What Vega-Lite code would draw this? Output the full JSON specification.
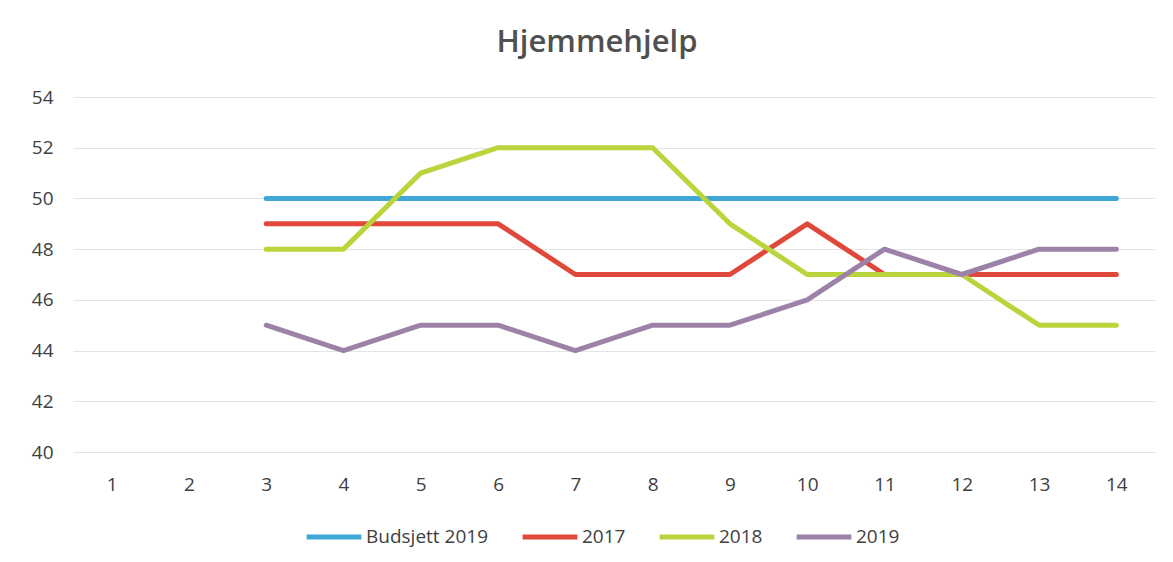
{
  "$schema": "https://vega.github.io/schema/vega-lite/v6.json",
  "width": 1082,
  "height": 355,
  "autosize": {"type": "none"},
  "padding": {"left": 73, "top": 97, "right": 18, "bottom": 110},
  "background": "#ffffff",
  "title": {
    "text": "Hjemmehjelp",
    "font": "Open Sans",
    "fontSize": 31,
    "fontWeight": 600,
    "color": "#505050",
    "anchor": "middle",
    "dx": -17,
    "offset": 29
  },
  "config": {
    "view": {"stroke": null},
    "axis": {"labelFont": "Open Sans", "labelFontSize": 19, "labelColor": "#404040"}
  },
  "data": {
    "values": [
      {"x": 3, "serie": "Budsjett 2019", "value": 50},
      {"x": 4, "serie": "Budsjett 2019", "value": 50},
      {"x": 5, "serie": "Budsjett 2019", "value": 50},
      {"x": 6, "serie": "Budsjett 2019", "value": 50},
      {"x": 7, "serie": "Budsjett 2019", "value": 50},
      {"x": 8, "serie": "Budsjett 2019", "value": 50},
      {"x": 9, "serie": "Budsjett 2019", "value": 50},
      {"x": 10, "serie": "Budsjett 2019", "value": 50},
      {"x": 11, "serie": "Budsjett 2019", "value": 50},
      {"x": 12, "serie": "Budsjett 2019", "value": 50},
      {"x": 13, "serie": "Budsjett 2019", "value": 50},
      {"x": 14, "serie": "Budsjett 2019", "value": 50},
      {"x": 3, "serie": "2017", "value": 49},
      {"x": 4, "serie": "2017", "value": 49},
      {"x": 5, "serie": "2017", "value": 49},
      {"x": 6, "serie": "2017", "value": 49},
      {"x": 7, "serie": "2017", "value": 47},
      {"x": 8, "serie": "2017", "value": 47},
      {"x": 9, "serie": "2017", "value": 47},
      {"x": 10, "serie": "2017", "value": 49},
      {"x": 11, "serie": "2017", "value": 47},
      {"x": 12, "serie": "2017", "value": 47},
      {"x": 13, "serie": "2017", "value": 47},
      {"x": 14, "serie": "2017", "value": 47},
      {"x": 3, "serie": "2018", "value": 48},
      {"x": 4, "serie": "2018", "value": 48},
      {"x": 5, "serie": "2018", "value": 51},
      {"x": 6, "serie": "2018", "value": 52},
      {"x": 7, "serie": "2018", "value": 52},
      {"x": 8, "serie": "2018", "value": 52},
      {"x": 9, "serie": "2018", "value": 49},
      {"x": 10, "serie": "2018", "value": 47},
      {"x": 11, "serie": "2018", "value": 47},
      {"x": 12, "serie": "2018", "value": 47},
      {"x": 13, "serie": "2018", "value": 45},
      {"x": 14, "serie": "2018", "value": 45},
      {"x": 3, "serie": "2019", "value": 45},
      {"x": 4, "serie": "2019", "value": 44},
      {"x": 5, "serie": "2019", "value": 45},
      {"x": 6, "serie": "2019", "value": 45},
      {"x": 7, "serie": "2019", "value": 44},
      {"x": 8, "serie": "2019", "value": 45},
      {"x": 9, "serie": "2019", "value": 45},
      {"x": 10, "serie": "2019", "value": 46},
      {"x": 11, "serie": "2019", "value": 48},
      {"x": 12, "serie": "2019", "value": 47},
      {"x": 13, "serie": "2019", "value": 48},
      {"x": 14, "serie": "2019", "value": 48}
    ]
  },
  "mark": {"type": "line", "strokeWidth": 5, "strokeCap": "round", "strokeJoin": "round"},
  "encoding": {
    "x": {
      "field": "x",
      "type": "ordinal",
      "scale": {"domain": [1, 2, 3, 4, 5, 6, 7, 8, 9, 10, 11, 12, 13, 14], "padding": 0.5},
      "axis": {"title": null, "labelAngle": 0, "domain": false, "ticks": false, "grid": false, "labelPadding": 23}
    },
    "y": {
      "field": "value",
      "type": "quantitative",
      "scale": {"domain": [40, 54], "nice": false, "zero": false},
      "axis": {
        "title": null,
        "values": [40, 42, 44, 46, 48, 50, 52, 54],
        "domain": false,
        "ticks": false,
        "grid": true,
        "gridColor": "#e4e4e4",
        "gridWidth": 1,
        "labelPadding": 20
      }
    },
    "color": {
      "field": "serie",
      "type": "nominal",
      "scale": {
        "domain": ["Budsjett 2019", "2017", "2018", "2019"],
        "range": ["#3ea7d6", "#e0483b", "#bad43c", "#9c82a9"]
      },
      "legend": {
        "title": null,
        "orient": "none",
        "direction": "horizontal",
        "legendX": 231,
        "legendY": 410,
        "symbolType": "stroke",
        "symbolSize": 3000,
        "symbolStrokeWidth": 5,
        "labelFont": "Open Sans",
        "labelFontSize": 19,
        "labelColor": "#404040",
        "labelOffset": 2,
        "columnPadding": 23,
        "symbolOffset": 0
      }
    },
    "order": {"value": 1}
  }
}
